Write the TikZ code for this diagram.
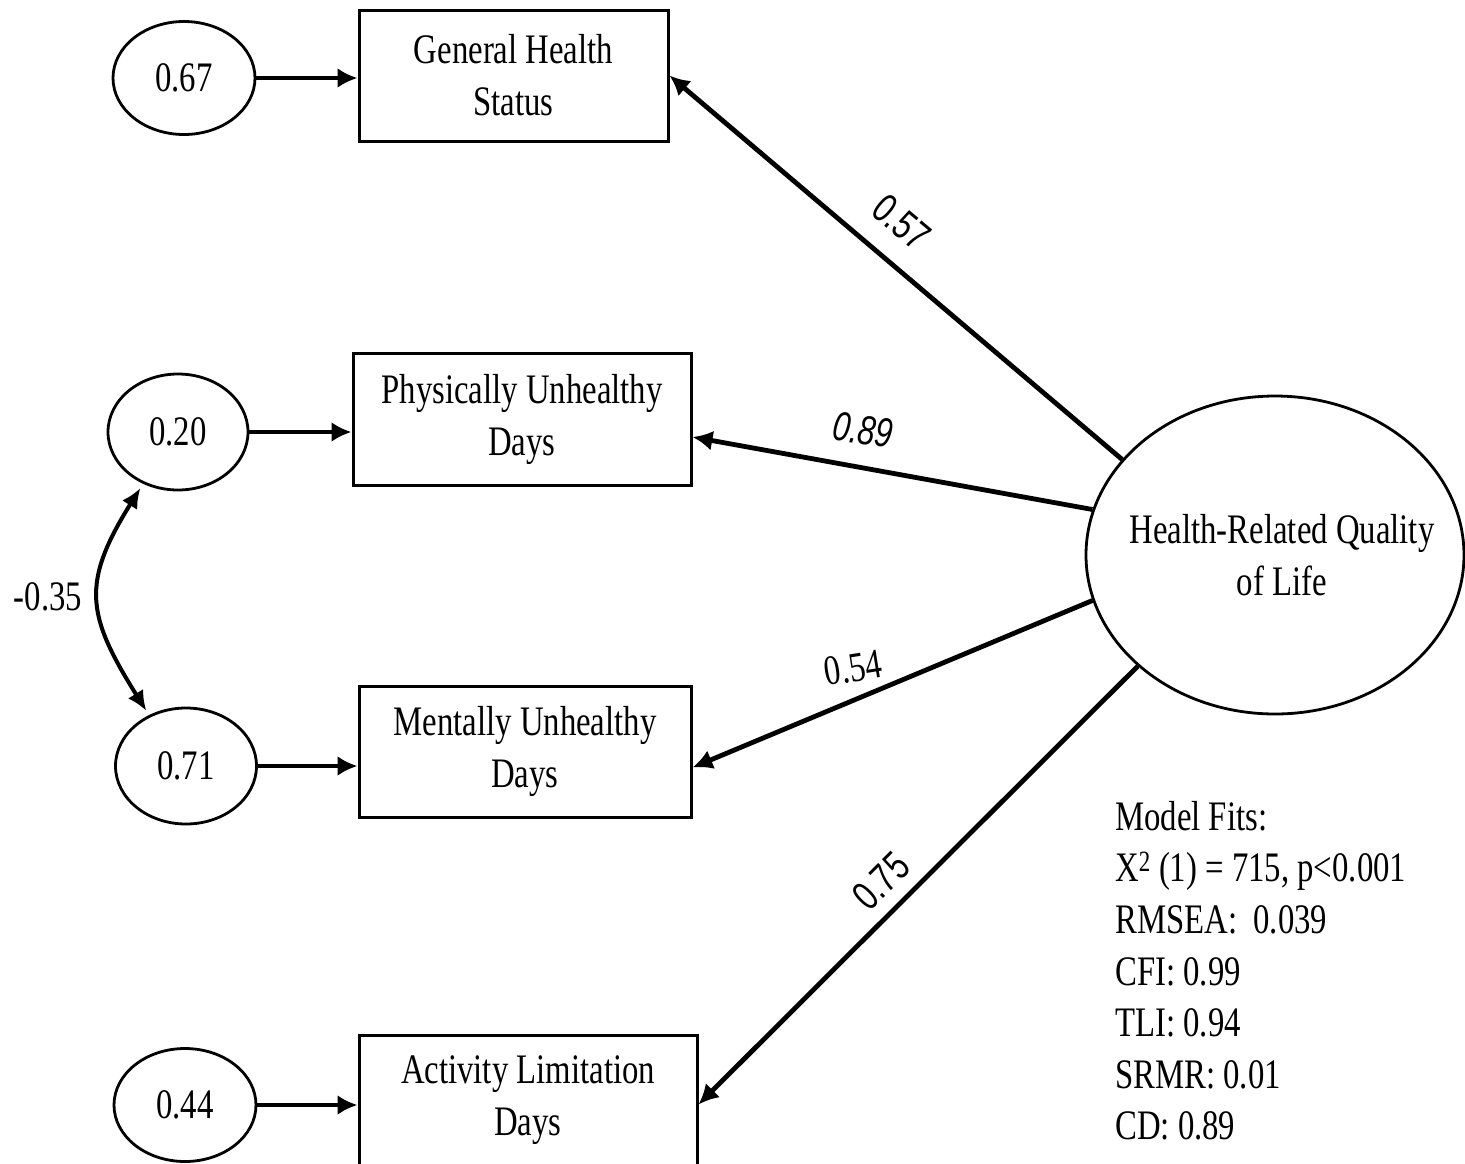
\documentclass[tikz,border=0pt]{standalone}
\usepackage{fontspec}
\setmainfont[FakeStretch=0.78]{Liberation Serif}
\newfontfamily\coefsans[FakeStretch=0.76]{Liberation Sans}
\usetikzlibrary{arrows.meta,shapes.geometric}

\begin{document}
\begin{tikzpicture}[x=1pt,y=1pt,
  every node/.style={font=\fontsize{42}{52}\selectfont, inner sep=0pt},
  errv/.style={ellipse, draw, line width=2.8pt, minimum width=142pt, minimum height=113pt},
  obsbox/.style={rectangle, draw, line width=3pt, align=center},
  latent/.style={ellipse, draw, line width=2.8pt, minimum width=378pt, minimum height=318pt, align=center},
  load/.style={line width=4.8pt, -{Latex[length=20pt,width=20pt]}},
  corr/.style={line width=4pt, {Latex[length=20pt,width=18pt]}-{Latex[length=20pt,width=18pt]}},
  coef/.style={font=\fontsize{41}{50}\coefsans},
  fitline/.style={anchor=base west}
]
\useasboundingbox (0,0) rectangle (1465,-1163);

% observed indicators
\node[obsbox, minimum width=309pt, minimum height=131pt] (ghs) at (513.5,-75.5) {General Health\\Status};
\node[obsbox, minimum width=338pt, minimum height=132pt] (pud) at (522,-419) {Physically Unhealthy\\Days};
\node[obsbox, minimum width=332pt, minimum height=131pt] (mud) at (525,-751.5) {Mentally Unhealthy\\Days};
\node[obsbox, minimum width=338pt, minimum height=131pt] (ald) at (528,-1100.5) {Activity Limitation\\Days};

% residual variances
\node[errv] (e1) at (184,-78) {0.67};
\node[errv, minimum width=140pt, minimum height=116pt] (e2) at (178,-432) {0.20};
\node[errv, minimum width=141pt, minimum height=116pt] (e3) at (186,-766) {0.71};
\node[errv] (e4) at (185,-1105) {0.44};

% latent factor (text boxes of zero width keep the ellipse at its set size)
\node[latent] (hr) at (1275,-555) {\makebox[0pt]{\hspace*{14pt}Health-Related Quality}\\\makebox[0pt]{\hspace*{14pt}of Life}};

% residual paths
\draw[load] (e1.east) -- (e1.east -| ghs.west);
\draw[load] (e2.east) -- (e2.east -| pud.west);
\draw[load] (e3.east) -- (e3.east -| mud.west);
\draw[load] (e4.east) -- (e4.east -| ald.west);

% factor loadings
\draw[load] (hr.148.2) -- (ghs.east);
\draw[load] (hr.166.7) -- ([yshift=-18pt]pud.east);
\draw[load] (hr.194) -- ([yshift=-16pt]mud.east);
\draw[load] (hr.219.4) -- ([yshift=-4pt]ald.east);

\node[coef, rotate=-40] (c57) at (902,-222) {0.57};
\node[coef, rotate=-8] (c89) at (863,-430) {\itshape 0.89};
\node[rotate=9] (c54) at (853,-668) {0.54};
\node[coef, rotate=45] (c75) at (881,-881) {0.75};

% residual covariance
\draw[corr, shorten <=5pt, shorten >=5pt] (e2.236) to[out=238, in=122, looseness=1.3] (e3.126);
\node (c35) at (48,-597) {-0.35};

% fit statistics
\node[fitline] (f1) at (1115,-830) {Model Fits:};
\node[fitline] (f2) at (1115,-881) {X\textsuperscript{2} (1) = 715, p<0.001};
\node[fitline] (f3) at (1115,-933) {RMSEA:\ \ 0.039};
\node[fitline] (f4) at (1115,-985) {CFI: 0.99};
\node[fitline] (f5) at (1115,-1036) {TLI: 0.94};
\node[fitline] (f6) at (1115,-1088) {SRMR: 0.01};
\node[fitline] (f7) at (1115,-1139) {CD: 0.89};
\end{tikzpicture}
\end{document}
